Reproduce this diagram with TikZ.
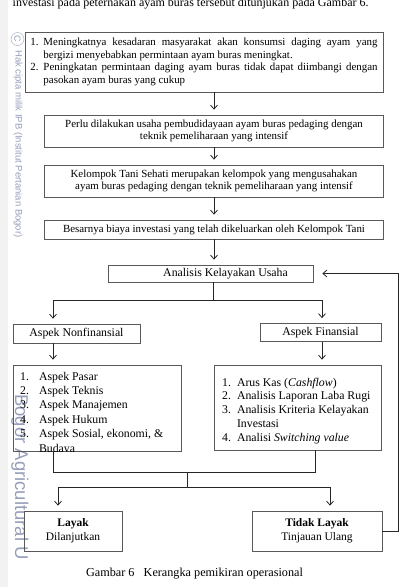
\documentclass[tikz,border=0pt]{standalone}
\usepackage{fontspec}
\setmainfont{Liberation Serif}
\newfontfamily\wmfont{Liberation Sans}
\usetikzlibrary{arrows.meta}
\definecolor{wm}{RGB}{150,158,185}
\begin{document}
\begin{tikzpicture}[x=1pt,y=-1pt,
 box/.style={draw=black!65, line width=0.7pt, inner sep=0pt, rectangle, align=center},
 arr/.style={-{Straight Barb[length=4pt,width=7pt,line width=0.8pt]}, line width=0.7pt, draw=black!85, shorten >=5pt},
 ln/.style={line width=0.7pt, draw=black!85},
 fa/.style={font=\fontsize{10.9}{12.7}\selectfont},
 fb/.style={font=\fontsize{11.8}{13.8}\selectfont},
 wmtext/.style={text=wm, inner sep=0pt, rotate=-90, anchor=west},
]
\useasboundingbox (0,0) rectangle (401,587);
\fill[gray!10] (0,0) rectangle (8,587);

% watermark
\node[wmtext, font=\wmfont\fontsize{9.5}{11}\selectfont] (wm1) at (18,50) {Hak cipta milik IPB (Institut Pertanian Bogor)};
\node[draw=wm, circle, inner sep=0.5pt, minimum size=13pt, text=wm, rotate=-90, font=\wmfont\fontsize{9}{10}\selectfont] (wmc) at (17.5,39) {C};
\node[wmtext, font=\wmfont\fontsize{18.5}{20}\selectfont] (wm2) at (20,394) {Bogor Agricultural U};

% top text (cut at the page edge, as in the scan)
\node[anchor=base west, inner sep=0pt, font=\fontsize{12}{14}\selectfont] (top) at (12.5,6.5) {investasi pada peternakan ayam buras tersebut ditunjukan pada Gambar 6.};

% boxes
\node[box, fa, minimum width=358pt, minimum height=60pt, text width=347pt, align=justify, inner xsep=5.5pt] (b1) at (204,62) {\parindent=0pt
\hangindent=13pt\hangafter=1\makebox[13pt][l]{1.}Meningkatnya kesadaran masyarakat akan konsumsi daging ayam yang\linebreak bergizi menyebabkan permintaan ayam buras meningkat.\par
\hangindent=13pt\hangafter=1\makebox[13pt][l]{2.}Peningkatan permintaan daging ayam buras tidak dapat diimbangi dengan\linebreak pasokan ayam buras yang cukup\par};

\node[box, fa, minimum width=339pt, minimum height=32pt] (b2) at (214,131) {Perlu dilakukan usaha pembudidayaan ayam buras pedaging dengan\\teknik pemeliharaan yang intensif};
\node[box, fa, minimum width=339pt, minimum height=32pt] (b3) at (214,181) {Kelompok Tani Sehati merupakan kelompok yang mengusahakan\\ayam buras pedaging dengan teknik pemeliharaan yang intensif};
\node[box, fa, minimum width=339pt, minimum height=19pt] (b4) at (214,229.5) {Besarnya biaya investasi yang telah dikeluarkan oleh Kelompok Tani};
\node[box, fb, minimum width=205pt, minimum height=17pt] (b5) at (210.5,273.5) {\hspace*{30pt}Analisis Kelayakan Usaha};

\node[box, fb, minimum width=127pt, minimum height=19pt] (nf) at (76.5,333.5) {Aspek Nonfinansial};
\node[box, fb, minimum width=121pt, minimum height=18pt] (fn) at (320.5,332.5) {Aspek Finansial};

\node[box, minimum width=168pt, minimum height=86pt] (l) at (97,408) {};
\begin{scope}
\clip (l.south west) rectangle (l.north east);
\node[font=\fontsize{11.8}{14.4}\selectfont, anchor=north west, inner sep=0pt] (lt) at (20,369.9) {\begin{tabular}{@{}l@{\hspace{10pt}}l@{}}1.&Aspek Pasar\\2.&Aspek Teknis\\3.&Aspek Manajemen\\4.&Aspek Hukum\\5.&Aspek Sosial, ekonomi, \&\\&Budaya\end{tabular}};
\end{scope}

\node[box, minimum width=167pt, minimum height=85pt] (r) at (297.5,407.5) {};
\node[fb, anchor=north west, inner sep=0pt] (rt) at (222,376.3) {\begin{tabular}{@{}l@{\hspace{6pt}}l@{}}1.&Arus Kas (\textit{Cashflow})\\2.&Analisis Laporan Laba Rugi\\3.&Analisis Kriteria Kelayakan\\&Investasi\\4.&Analisi \textit{Switching value}\end{tabular}};

\node[box, font=\fontsize{11.5}{14}\selectfont, minimum width=98pt, minimum height=40pt] (ly) at (73,531) {\textbf{Layak}\\Dilanjutkan};
\node[box, font=\fontsize{11.5}{14}\selectfont, minimum width=130pt, minimum height=40pt] (tl) at (317,531) {\textbf{Tidak Layak}\\Tinjauan Ulang};

\node[anchor=base, inner sep=0pt, font=\fontsize{12.2}{14}\selectfont] (cap) at (194.5,576) {Gambar 6\hspace{0.5em} Kerangka pemikiran operasional};

% connectors
\draw[arr] (b1.south -| b2.north) -- (b2.north);
\draw[arr] (b2.south) -- (b3.north);
\draw[arr] (b3.south) -- (b4.north);
\draw[arr] (b4.south) -- (b4.south |- b5.north);

\coordinate (j1) at (213,300);
\coordinate (jl) at (53,300);
\coordinate (jr) at (322,300);
\draw[ln] (b5.south -| j1) -- (j1);
\draw[ln] (jl) -- (jr);
\draw[arr] (jl) -- (jl |- nf.north);
\draw[arr] (jr) -- (jr |- fn.north);
\draw[arr] (nf.south -| jl) -- (jl |- l.north);
\draw[arr] (fn.south -| jr) -- (jr |- r.north);

\coordinate (m1) at (187,472);
\coordinate (mr) at (315,472);
\coordinate (m2) at (187,487);
\coordinate (ml) at (58,487);
\coordinate (mrr) at (330,487);
\draw[ln] (l.south -| jl) -- (jl |- m1) -- (mr) -- (r.south -| mr);
\draw[ln] (m1) -- (m2);
\draw[ln] (ml) -- (mrr);
\draw[arr] (ml) -- (ml |- ly.north);
\draw[arr] (mrr) -- (mrr |- tl.north);

\coordinate (fb1) at (398,0);
\draw[arr, shorten >=9pt] (tl.east) -- (tl.east -| fb1) -- (fb1 |- b5.east) -- (b5.east);
\end{tikzpicture}
\end{document}
